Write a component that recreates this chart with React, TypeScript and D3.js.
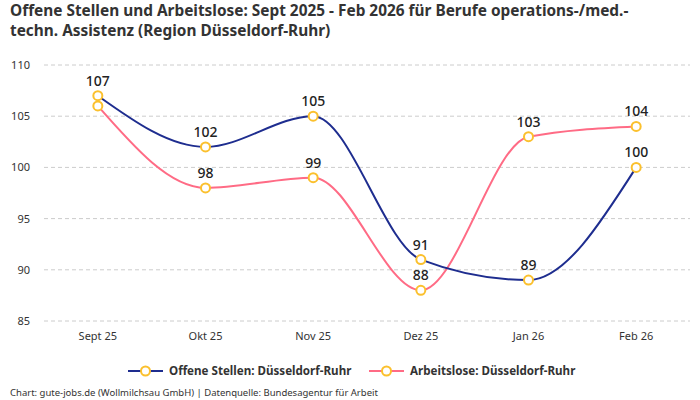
import * as React from 'react';
import * as d3 from 'd3';

const months = ['Sept 25', 'Okt 25', 'Nov 25', 'Dez 25', 'Jan 26', 'Feb 26'];
const offeneStellen = [107, 102, 105, 91, 89, 100];
const arbeitslose = [106, 98, 99, 88, 103, 104];
const yTicks = [85, 90, 95, 100, 105, 110];

const width = 700;
const height = 400;
const font = "'Noto Sans', 'DejaVu Sans', sans-serif";
const blue = '#1e2d8f';
const pink = '#ff6b85';
const marker = '#fbc02d';
const textColor = '#333';

const plot = { left: 44, right: 690, top: 65, bottom: 321 };

const xScale = d3.scaleBand<string>()
    .domain(months)
    .range([plot.left, plot.right]);
const yScale = d3.scaleLinear()
    .domain([85, 110])
    .range([plot.bottom, plot.top]);

const xPos = (m: string) => (xScale(m) || 0) + xScale.bandwidth() / 2;

const line = d3.line<number>()
    .x((d, i) => xPos(months[i]))
    .y(d => yScale(d))
    .curve(d3.curveMonotoneX);

interface SeriesProps {
    values: number[],
    color: string,
    hideLabels?: number[],
}

function Series({ values, color, hideLabels = [] }: SeriesProps) {
    return <g>
        <path d={line(values) || ''} fill="none" stroke={color} strokeWidth={2} />
        {values.map((v, i) => <circle key={i} cx={xPos(months[i])} cy={yScale(v)} r={4.5}
            fill="#fff" stroke={marker} strokeWidth={2} />)}
        {values.map((v, i) => hideLabels.includes(i) ? null :
            <text key={'l' + i} x={xPos(months[i])} y={yScale(v) - 10} textAnchor="middle"
                fontSize={14} fontWeight={500} fill="#222">{v}</text>)}
    </g>;
}

function LegendItem({ x, color, label }: { x: number, color: string, label: string }) {
    const y = 371;
    return <g>
        <line x1={x} x2={x + 35} y1={y} y2={y} stroke={color} strokeWidth={2} />
        <circle cx={x + 17.5} cy={y} r={4.5} fill="#fff" stroke={marker} strokeWidth={2} />
        <text x={x + 41} y={y + 4} fontSize={11.6} fontWeight={700} fill={textColor}>{label}</text>
    </g>;
}

export default function App() {
    return <svg width={width} height={height} style={{ position: 'absolute', left: 0, top: 0, fontFamily: font }}>
        <rect width={width} height={height} fill="#fff" />
        <text x={10} y={16} fontSize={15.4} fontWeight={700} fill={textColor}>
            Offene Stellen und Arbeitslose: Sept 2025 - Feb 2026 für Berufe operations-/med.-
        </text>
        <text x={10} y={35.5} fontSize={15.4} fontWeight={700} fill={textColor}>
            techn. Assistenz (Region Düsseldorf-Ruhr)
        </text>

        {yTicks.map(t => <g key={t}>
            <line x1={plot.left} x2={plot.right} y1={yScale(t)} y2={yScale(t)}
                stroke="#ccc" strokeDasharray="4,3" />
            <text x={30} y={yScale(t) + 4} textAnchor="end" fontSize={11} fill={textColor}>{t}</text>
        </g>)}

        {months.map(m => <text key={m} x={xPos(m)} y={340} textAnchor="middle"
            fontSize={11} fill={textColor}>{m}</text>)}

        <Series values={arbeitslose} color={pink} hideLabels={[0]} />
        <Series values={offeneStellen} color={blue} />

        <LegendItem x={128} color={blue} label="Offene Stellen: Düsseldorf-Ruhr" />
        <LegendItem x={369} color={pink} label="Arbeitslose: Düsseldorf-Ruhr" />

        <text x={10} y={396} fontSize={9.5} fill={textColor}>
            Chart: gute-jobs.de (Wollmilchsau GmbH) | Datenquelle: Bundesagentur für Arbeit
        </text>
    </svg>;
}
